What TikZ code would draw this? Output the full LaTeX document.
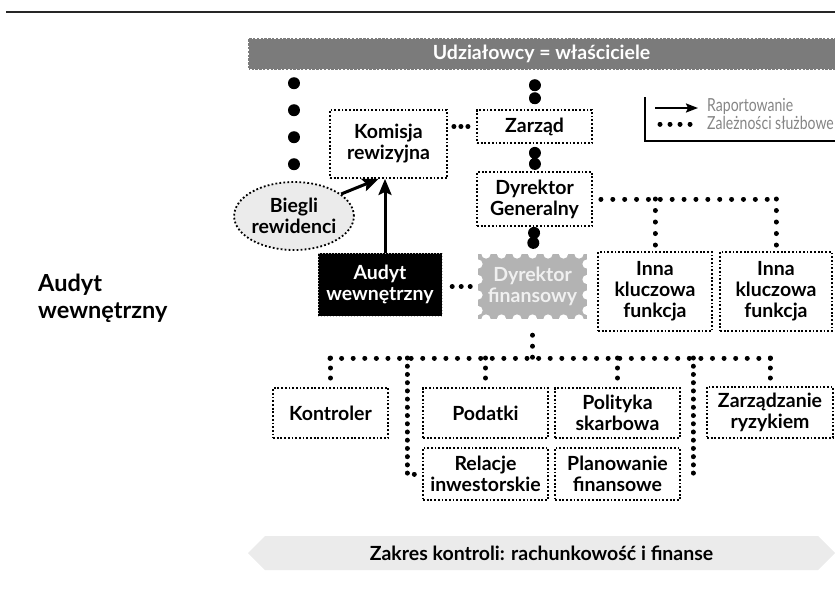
\documentclass[tikz,border=0pt]{standalone}
\usepackage{fontspec}
\setmainfont{Lato}
\newfontfamily\legendfont[FakeStretch=0.78]{Lato}
\usetikzlibrary{arrows.meta,shapes.geometric,shapes.symbols}

\definecolor{bargray}{HTML}{7B7B7B}
\definecolor{cfogray}{HTML}{B3B3B3}
\definecolor{cfotext}{HTML}{F0F0F0}
\definecolor{softgray}{HTML}{EBEBEB}
\definecolor{legendgray}{HTML}{858585}

\begin{document}
\begin{tikzpicture}[x=1pt,y=-1pt,
  lbl/.style={font=\bfseries\fontsize{19.5}{21}\selectfont, align=center, inner sep=0pt},
  dotbox/.style={lbl, draw, line width=1.8pt, dash pattern=on 1.8pt off 1.9pt},
  bigdots/.style={line width=12pt, line cap=round, dash pattern=on 0.01pt off #1},
  middots/.style={line width=5pt, line cap=round, dash pattern=on 0.01pt off #1},
  smalldots/.style={line width=5pt, line cap=round, dash pattern=on 0.01pt off #1},
  report/.style={line width=3pt, -{Stealth[length=16pt,width=13pt,inset=3pt]}},
]
\useasboundingbox (0,0) rectangle (835,592);

% rule across the top
\draw[line width=1.4pt, black!85] (6,12) -- (835,12);

% owners' bar
\node[lbl, fill=bargray, text=white, minimum width=587, minimum height=32] (owners) at (541.5,54) {Udziałowcy = właściciele};
\draw[white, line width=1.2pt, dash pattern=on 1.4pt off 2.4pt] (248,38) rectangle (836,70);

% governance boxes
\node[dotbox, minimum width=117, minimum height=68] (komisja) at (388.5,144) {Komisja\\rewizyjna};
\node[dotbox, minimum width=115, minimum height=33] (zarzad) at (534.5,126.5) {Zarząd};
\node[dotbox, minimum width=115, minimum height=54] (dg) at (534.5,199) {Dyrektor\\Generalny};
\node[lbl, ellipse, fill=softgray, draw, line width=1.8pt, dash pattern=on 1.8pt off 2.2pt,
      minimum width=108, minimum height=68] (biegli) at (294,216) {Biegli\\rewidenci};

% internal audit and CFO
\node[lbl, fill=black, text=white, minimum width=124, minimum height=63] (audyt) at (380,284.5) {Audyt\\wewnętrzny};
\draw[white!75!black, line width=1pt, dash pattern=on 1pt off 2pt] (318,253) rectangle (442,316);
\node[lbl, fill=cfogray, text=cfotext, minimum width=109, minimum height=65] (df) at (532.5,286.5) {Dyrektor\\finansowy};
% stamp-like scalloped edge of the CFO box
\foreach \x in {486,501.5,...,580} {
  \fill[white] (\x,254) circle (4.6);
  \fill[white] (\x,319) circle (4.6);
}
\foreach \y in {264,279.5,...,311} {
  \fill[white] (478,\y) circle (4.6);
  \fill[white] (587,\y) circle (4.6);
}

\node[dotbox, minimum width=114, minimum height=79] (inna1) at (655,291.5) {Inna\\kluczowa\\funkcja};
\node[dotbox, minimum width=112, minimum height=79] (inna2) at (776,291.5) {Inna\\kluczowa\\funkcja};

% finance functions
\node[dotbox, minimum width=115, minimum height=50] (kontroler) at (330.5,413) {Kontroler};
\node[dotbox, minimum width=125, minimum height=50] (podatki) at (485.5,413) {Podatki};
\node[dotbox, minimum width=125, minimum height=52] (relacje) at (485.5,474) {Relacje\\inwestorskie};
\node[dotbox, minimum width=125, minimum height=50] (polityka) at (617.5,413) {Polityka\\skarbowa};
\node[dotbox, minimum width=125, minimum height=52] (planowanie) at (617.5,474) {Planowanie\\finansowe};
\node[dotbox, minimum width=126, minimum height=51] (ryzyko) at (770,412.5) {Zarządzanie\\ryzykiem};

% side title
\node[anchor=west, align=left, inner sep=0pt, font=\bfseries\fontsize{23.5}{27}\selectfont] (title) at (38,298) {Audyt\\wewnętrzny};

% scope banner
\node[signal, signal to=west and east, signal pointer angle=90, fill=softgray, inner sep=0pt,
      minimum width=587, minimum height=34, font=\bfseries\fontsize{19.5}{21}\selectfont] (zakres) at (541.5,553)
      {Zakres kontroli: rachunkowość i finanse};

% legend
\draw[line width=1.6pt] (645,97) -- (645,141) -- (835,141);
\coordinate (legA1) at (655,108);
\coordinate (legA2) at (698,108);
\coordinate (legD1) at (660,124);
\coordinate (legD2) at (692,124);
\draw[line width=2pt, -{Stealth[length=12pt,width=9pt,inset=2pt]}] (legA1) -- (legA2);
\draw[middots=10pt] (legD1) -- (legD2);
\node[anchor=west, inner sep=0pt, text=legendgray, font=\legendfont\fontsize{18}{19}\selectfont] (legR) at (707,106) {Raportowanie};
\node[anchor=west, inner sep=0pt, text=legendgray, font=\legendfont\fontsize{18}{19}\selectfont] (legZ) at (707,123) {Zależności służbowe};

% heavy dotted links
\draw[bigdots=27pt, shorten <=13pt, shorten >=15pt] (owners.south -| biegli.north) -- (biegli.north);
\draw[bigdots=13pt, shorten <=15pt, shorten >=10pt] (owners.south -| zarzad.north) -- (zarzad.north);
\draw[bigdots=11pt, shorten <=9pt, shorten >=6pt] (zarzad.south) -- (dg.north);
\draw[bigdots=10pt, shorten <=6pt, shorten >=10pt] (dg.south) -- (df.north);

% short dotted links
\draw[smalldots=7pt, shorten <=6pt, shorten >=8pt] (komisja.east |- zarzad.west) -- (zarzad.west);
\draw[smalldots=9pt, shorten <=10pt, shorten >=6pt] (audyt.east |- df.west) -- (df.west);

% reporting arrows
\draw[report] (biegli.25) -- ([xshift=-10pt]komisja.south);
\draw[report] ([xshift=5pt]audyt.north) -- ([xshift=5pt]audyt.north |- komisja.south);

% CEO to other key functions
\draw[middots=11.87pt, shorten <=8pt] (dg.east) -- ([xshift=1pt]dg.east -| inna2.north);
\draw[middots=11.5pt] (dg.east -| inna1.north) -- ([yshift=6pt]inna1.north);
\draw[middots=11.5pt] (dg.east -| inna2.north) -- ([yshift=6pt]inna2.north);

% CFO to finance functions
\coordinate (busL) at (330,358);
\coordinate (busR) at (771,358);
\coordinate (busRel) at (407,358);
\coordinate (busPlan) at (693,358);
\draw[middots=11.58pt] (busL) -- (busR);
\draw[middots=11pt, shorten <=16pt] (df.south) -- (df.south |- busL);
\draw[middots=10pt] (kontroler.north |- busL) -- ([yshift=9pt]kontroler.north);
\draw[middots=10pt] (podatki.north |- busL) -- ([yshift=9pt]podatki.north);
\draw[middots=10pt] (polityka.north |- busL) -- ([yshift=9pt]polityka.north);
\draw[middots=10pt] (ryzyko.north |- busL) -- ([yshift=8pt]ryzyko.north);
\draw[middots=8.21pt] (busRel) |- ([xshift=-7pt]relacje.west);
\draw[middots=8.21pt] (busPlan) |- ([xshift=7pt]planowanie.east);
\end{tikzpicture}
\end{document}
